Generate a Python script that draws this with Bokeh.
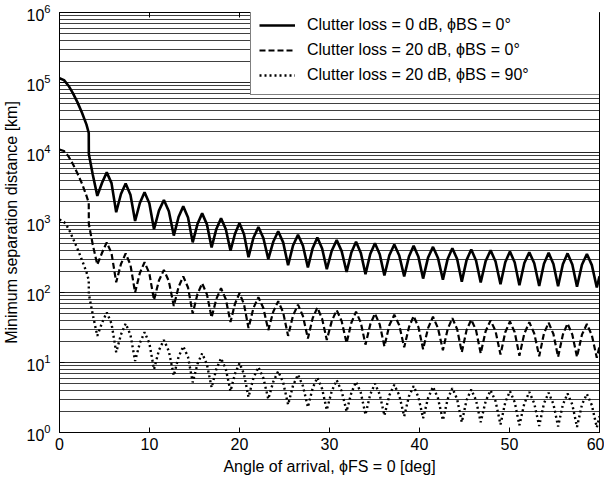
from bokeh.plotting import figure
from bokeh.models import Legend, LegendItem, LinearAxis, FixedTicker, CustomJSTickFormatter
from bokeh.embed import file_html
from bokeh.resources import INLINE

# ---- data ----
# main-lobe part (before the first null)
angle_start = [0.0, 0.5, 1.0, 1.5, 2.0, 2.5, 3.0, 3.25, 3.26, 3.7]
solid_start = [1.15e5, 1.08e5, 9.0e4, 7.0e4, 5.2e4, 3.7e4, 2.5e4, 1.9e4, 9.5e3, 4.8e3]
dashed_start = [1.1e4, 1.05e4, 8.8e3, 6.8e3, 5.0e3, 3.6e3, 2.4e3, 1.9e3, 950, 480]
dotted_start = [1100, 1020, 820, 590, 420, 290, 195, 150, 95, 48]

# side-lobe part: trough, rising shoulder, peak, falling shoulder ...
angle_lobes = [
    4.2, 4.73, 5.25, 5.78, 6.3, 6.83, 7.35, 7.88, 8.4, 8.93, 9.45, 9.98,
    10.5, 11.05, 11.6, 12.15, 12.7, 13.23, 13.75, 14.28, 14.8, 15.33, 15.85, 16.38,
    16.9, 17.43, 17.95, 18.48, 19.0, 19.5, 20.0, 20.5, 21.0, 21.55, 22.1, 22.65,
    23.2, 23.75, 24.3, 24.85, 25.4, 25.95, 26.5, 27.05, 27.6, 28.13, 28.65, 29.18,
    29.7, 30.25, 30.8, 31.35, 31.9, 32.43, 32.95, 33.48, 34.0, 34.53, 35.05, 35.58,
    36.1, 36.65, 37.2, 37.75, 38.3, 38.83, 39.35, 39.88, 40.4, 40.95, 41.5, 42.05,
    42.6, 43.13, 43.65, 44.18, 44.7, 45.23, 45.75, 46.28, 46.8, 47.35, 47.9, 48.45,
    49.0, 49.53, 50.05, 50.58, 51.1, 51.65, 52.2, 52.75, 53.3, 53.83, 54.35, 54.88,
    55.4, 55.93, 56.45, 56.98, 57.5, 58.05, 58.6, 59.15, 59.7, 60.0,
]
solid_lobes = [
    2400, 3700, 5200, 3650, 1400, 2550, 3600, 2500, 1050, 1900, 2700, 1880,
    800, 1480, 2100, 1450, 650, 1200, 1700, 1180, 520, 950, 1350, 940,
    440, 810, 1150, 800, 395, 690, 980, 680, 320, 605, 860, 600,
    300, 530, 750, 520, 245, 470, 670, 465, 228, 430, 610, 425,
    215, 395, 560, 390, 197, 372, 530, 368, 183, 355, 505, 352,
    175, 340, 485, 338, 170, 327, 465, 323, 158, 315, 448, 312,
    152, 302, 430, 300, 143, 290, 412, 287, 139, 281, 400, 278,
    131, 271, 386, 268, 127, 264, 376, 261, 124, 258, 368, 256,
    123, 254, 362, 251, 121, 249, 355, 246, 118, 170,
]
dashed_lobes = [
    250, 370, 520, 365, 140, 255, 360, 250, 100, 190, 270, 188,
    78, 148, 210, 145, 64, 120, 170, 118, 50, 95, 135, 94,
    44, 81, 115, 80, 38, 69, 98, 68, 31, 60, 86, 60,
    29, 53, 75, 52, 24, 47, 67, 46, 22, 43, 61, 42,
    21, 39, 56, 39, 19, 37, 53, 37, 18, 35, 50, 35,
    17, 34, 48, 34, 16.5, 32, 46, 32, 15.5, 31, 45, 31,
    15, 30, 43, 30, 14, 29, 41, 29, 13.5, 28, 40, 28,
    13, 27, 38.5, 27, 12.5, 26, 37.5, 26, 12.3, 26, 37, 25.5,
    12, 25, 36, 25, 12, 25, 35.5, 24.5, 11.7, 17,
]
dotted_lobes = [
    24, 37, 52, 36, 14, 25, 36, 25, 10.5, 19, 27, 19,
    8, 15, 21, 14.5, 6.5, 12, 17, 12, 5.2, 9.5, 13.5, 9.4,
    4.4, 8.1, 11.5, 8, 3.9, 6.9, 9.8, 6.8, 3.2, 6, 8.6, 6,
    3, 5.3, 7.5, 5.2, 2.5, 4.7, 6.7, 4.6, 2.3, 4.3, 6.1, 4.2,
    2.1, 3.9, 5.6, 3.9, 2, 3.7, 5.3, 3.7, 1.8, 3.5, 5, 3.5,
    1.75, 3.4, 4.8, 3.4, 1.7, 3.3, 4.6, 3.2, 1.6, 3.1, 4.5, 3.1,
    1.5, 3, 4.3, 3, 1.4, 2.9, 4.1, 2.9, 1.4, 2.8, 4, 2.8,
    1.3, 2.7, 3.9, 2.7, 1.27, 2.6, 3.8, 2.6, 1.24, 2.6, 3.7, 2.55,
    1.22, 2.5, 3.6, 2.5, 1.2, 2.5, 3.55, 2.45, 1.18, 1.7,
]

series_labels = [
    "Clutter loss = 0 dB, ϕBS = 0°",
    "Clutter loss = 20 dB, ϕBS = 0°",
    "Clutter loss = 20 dB, ϕBS = 90°",
]
x_ticks = [0, 10, 20, 30, 40, 50, 60]
y_ticks = [1, 10, 100, 1000, 10000, 100000, 1000000]

FONT = "Liberation Sans"
FS = "16px"

p = figure(width=604, height=481, x_range=(0, 60), y_range=(1, 1e6),
           y_axis_type="log", output_backend="svg", toolbar_location=None,
           min_border_left=58, min_border_right=5, min_border_top=12,
           min_border_bottom=49)
p.background_fill_color = "white"
p.border_fill_color = "white"
p.outline_line_color = "black"
p.outline_line_width = 1

minor = [m * t for t in y_ticks[:-1] for m in range(2, 10)]
yticker = FixedTicker(ticks=y_ticks, minor_ticks=minor)
xticker = FixedTicker(ticks=x_ticks)
p.yaxis.ticker = yticker
p.xaxis.ticker = xticker
p.ygrid.ticker = yticker

p.xgrid.grid_line_color = None
p.ygrid.grid_line_color = "black"
p.ygrid.grid_line_alpha = 0.85
p.ygrid.grid_line_width = 1
p.ygrid.minor_grid_line_color = "black"
p.ygrid.minor_grid_line_alpha = 0.75
p.ygrid.minor_grid_line_width = 1

for ax in (p.xaxis[0], p.yaxis[0]):
    ax.axis_line_color = "black"
    ax.major_tick_in = 5
    ax.major_tick_out = 0
    ax.minor_tick_in = 0
    ax.minor_tick_out = 0
    ax.major_tick_line_color = "black"
    ax.major_label_text_font = FONT
    ax.major_label_text_font_size = FS
    ax.major_label_text_color = "black"
    ax.axis_label_text_font = FONT
    ax.axis_label_text_font_size = FS
    ax.axis_label_text_font_style = "normal"
    ax.axis_label_text_color = "black"

p.xaxis.axis_label = "Angle of arrival, ϕFS = 0 [deg]"
p.yaxis.axis_label = "Minimum separation distance [km]"
p.xaxis.major_label_standoff = 5
p.xaxis.axis_label_standoff = 5
p.yaxis.major_label_standoff = 9
p.yaxis.axis_label_standoff = 3

top = LinearAxis(ticker=xticker, formatter=CustomJSTickFormatter(code="return ''"),
                 major_tick_in=5, major_tick_out=0, minor_tick_in=0, minor_tick_out=0,
                 axis_line_color=None, major_label_standoff=0,
                 major_label_text_font_size="1px")
p.add_layout(top, "above")

r1 = p.line(angle_start + angle_lobes, solid_start + solid_lobes,
            line_color="black", line_width=2.6)
r2 = p.line(angle_start + angle_lobes, dashed_start + dashed_lobes,
            line_color="black", line_width=2.2, line_dash="6 3")
r3 = p.line(angle_start + angle_lobes, dotted_start + dotted_lobes,
            line_color="black", line_width=2.4, line_dash="2 3")

legend = Legend(items=[LegendItem(label=series_labels[0], renderers=[r1]),
                       LegendItem(label=series_labels[1], renderers=[r2]),
                       LegendItem(label=series_labels[2], renderers=[r3])],
                location=(191, 337))
legend.margin = 0
legend.padding = 8
legend.spacing = 3
legend.glyph_width = 36
legend.glyph_height = 22
legend.label_height = 22
legend.label_width = 286
legend.label_standoff = 12
legend.label_text_font = FONT
legend.label_text_font_size = FS
legend.label_text_color = "black"
legend.border_line_color = "black"
legend.border_line_width = 1
legend.background_fill_color = "white"
legend.background_fill_alpha = 1.0
p.add_layout(legend)

open("out.html", "w").write(file_html(p, INLINE))
